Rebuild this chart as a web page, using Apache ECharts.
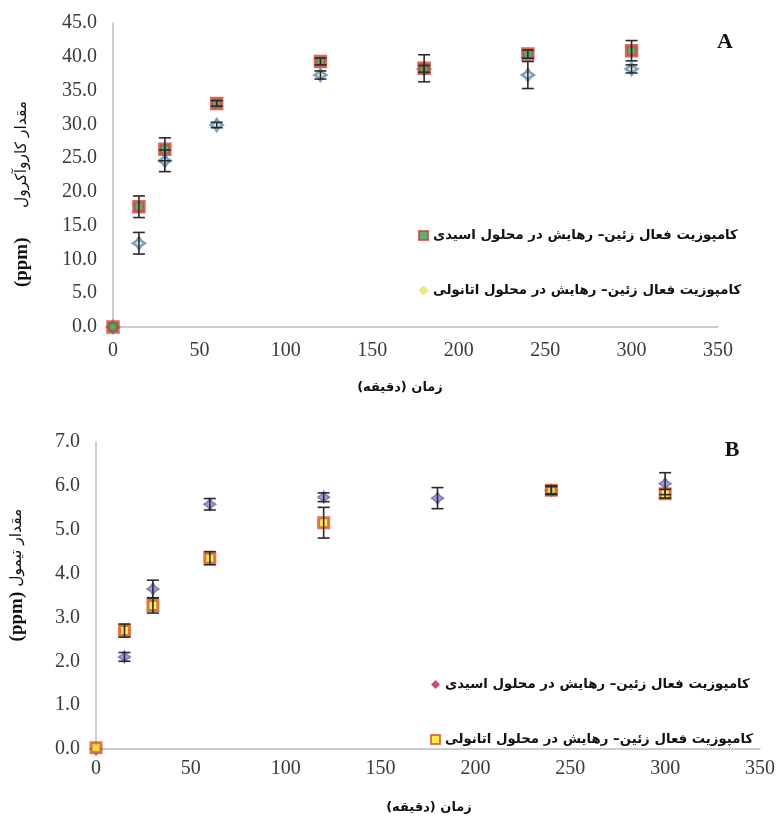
<!DOCTYPE html>
<html>
<head>
<meta charset="utf-8">
<script src="https://cdn.jsdelivr.net/npm/echarts@6/dist/echarts.min.js"></script>
<style>
html,body{margin:0;padding:0;background:#fff;}
#c{width:782px;height:818px;}
</style>
</head>
<body>
<div id="c"></div>
<script>
// ---- Data ----
var timesMin = [0, 15, 30, 60, 120, 180, 240, 300];
var xTicks = [0, 50, 100, 150, 200, 250, 300, 350];

// Chart A: carvacrol (ppm)
var aAcid = [0, 17.8, 26.3, 33.1, 39.3, 38.3, 40.4, 40.9];
var aAcidErr = [0, 1.6, 1.7, 0.4, 0.5, 2.0, 0.6, 1.5];
var aEth = [0, 12.4, 24.6, 29.9, 37.3, 38.2, 37.3, 38.2];
var aEthErr = [0, 1.6, 1.6, 0.4, 0.6, 0.5, 2.0, 0.6];

// Chart B: thymol (ppm)
var bAcid = [0, 2.1, 3.65, 5.58, 5.74, 5.72, 5.9, 6.05];
var bAcidErr = [0, 0.1, 0.2, 0.13, 0.1, 0.24, 0.08, 0.25];
var bEth = [0.03, 2.7, 3.27, 4.35, 5.16, null, 5.9, 5.82];
var bEthErr = [0, 0.15, 0.17, 0.15, 0.35, null, 0.1, 0.1];

var nameAcid = 'کامپوزیت فعال زئین– رهایش در محلول اسیدی';
var nameEth = 'کامپوزیت فعال زئین– رهایش در محلول اتانولی';

function pts(vals){ return timesMin.map(function(t,i){ return vals[i]==null?null:[t, vals[i]]; }).filter(Boolean); }
function errs(vals, e){ return timesMin.map(function(t,i){ return vals[i]==null||!e[i]?null:[t, vals[i]-e[i], vals[i]+e[i]]; }).filter(Boolean); }

function errRender(params, api){
  var x = api.value(0), lo = api.value(1), hi = api.value(2);
  var p1 = api.coord([x, hi]), p2 = api.coord([x, lo]);
  var w = 6;
  var st = {stroke:'#2a2a2a', lineWidth:1.6};
  return {type:'group', children:[
    {type:'line', shape:{x1:p1[0],y1:p1[1],x2:p2[0],y2:p2[1]}, style:st},
    {type:'line', shape:{x1:p1[0]-w,y1:p1[1],x2:p1[0]+w,y2:p1[1]}, style:st},
    {type:'line', shape:{x1:p2[0]-w,y1:p2[1],x2:p2[0]+w,y2:p2[1]}, style:st}
  ]};
}

var star4 = 'path://M0,-10 L4,-4 L10,0 L4,4 L0,10 L-4,4 L-10,0 L-4,-4 Z';
var tickFont = {fontFamily:'Liberation Serif', fontSize:20, color:'#3a3a3a'};
var axLine = {lineStyle:{color:'#bdbdbd', width:1.5}};

function xAx(gi, margin){
  return {type:'value', gridIndex:gi, min:0, max:350, interval:50,
    axisLine:axLine, axisTick:{show:false}, splitLine:{show:false},
    axisLabel:Object.assign({margin:margin}, tickFont)};
}
function yAx(gi, max, interval){
  return {type:'value', gridIndex:gi, min:0, max:max, interval:interval,
    axisLine:Object.assign({show:true}, axLine), axisTick:{show:false}, splitLine:{show:false},
    axisLabel:Object.assign({margin:16, formatter:function(v){return v.toFixed(1);}}, tickFont)};
}

var legText = {fontFamily:'DejaVu Sans', fontWeight:'bold', fontSize:13.3, color:'#111'};

var chart = echarts.init(document.getElementById('c'));
chart.setOption({
  backgroundColor:'#fff',
  animation:false,
  grid:[
    {left:113, top:23, width:605, height:304},
    {left:96, top:442, width:664, height:307}
  ],
  xAxis:[xAx(0, 14), xAx(1, 10)],
  yAxis:[yAx(0, 45, 5), yAx(1, 7, 1)],
  legend:[
    {orient:'vertical', left:413, top:224, itemGap:42, itemWidth:9, itemHeight:9,
     textStyle:legText, selectedMode:false,
     data:[
      {name:nameAcid, icon:'rect', itemStyle:{color:'#2f9e4a', borderColor:'#d0443a', borderWidth:2}},
      {name:nameEth, icon:'diamond', itemStyle:{color:'#e6e55a', borderColor:'#d8d890', borderWidth:1}}
     ]},
    {orient:'vertical', left:425, top:673, itemGap:42, itemWidth:9, itemHeight:9,
     textStyle:legText, selectedMode:false,
     data:[
      {name:nameAcid, icon:'diamond', itemStyle:{color:'#c41e4a', borderWidth:0}},
      {name:nameEth, icon:'rect', itemStyle:{color:'#ffe81a', borderColor:'#d4552a', borderWidth:2}}
     ]}
  ],
  series:[
    {type:'scatter', name:nameEth, xAxisIndex:0, yAxisIndex:0, data:pts(aEth), symbol:star4, symbolSize:12,
     itemStyle:{color:'#eef0b0', borderColor:'#5a8cc4', borderWidth:2.5}, z:2},
    {type:'scatter', name:nameAcid, xAxisIndex:0, yAxisIndex:0, data:pts(aAcid), symbol:'rect', symbolSize:10,
     itemStyle:{color:'#2f9e4a', borderColor:'#d0443a', borderWidth:3.5}, z:3},
    {type:'custom', name:'errA1', xAxisIndex:0, yAxisIndex:0, data:errs(aAcid, aAcidErr), renderItem:errRender, z:5},
    {type:'custom', name:'errA2', xAxisIndex:0, yAxisIndex:0, data:errs(aEth, aEthErr), renderItem:errRender, z:5},

    {type:'scatter', name:nameAcid, xAxisIndex:1, yAxisIndex:1, data:pts(bAcid), symbol:star4, symbolSize:12,
     itemStyle:{color:'#8a86c8', borderColor:'#6c6cb0', borderWidth:1.5}, z:2},
    {type:'scatter', name:nameEth, xAxisIndex:1, yAxisIndex:1, data:pts(bEth), symbol:'rect', symbolSize:10,
     itemStyle:{color:'#ffe81a', borderColor:'#d4552a', borderWidth:3}, z:3},
    {type:'custom', name:'errB1', xAxisIndex:1, yAxisIndex:1, data:errs(bAcid, bAcidErr), renderItem:errRender, z:5},
    {type:'custom', name:'errB2', xAxisIndex:1, yAxisIndex:1, data:errs(bEth, bEthErr), renderItem:errRender, z:5}
  ],
  graphic:[
    {type:'text', x:725, y:42, style:{text:'A', font:'bold 22px "Liberation Serif"', fill:'#111', align:'center', verticalAlign:'middle'}},
    {type:'text', x:732, y:450, style:{text:'B', font:'bold 22px "Liberation Serif"', fill:'#111', align:'center', verticalAlign:'middle'}},
    {type:'text', x:400, y:388, style:{text:'زمان (دقیقه)\u200F', font:'bold 13px "DejaVu Sans"', fill:'#111', align:'center', verticalAlign:'middle'}},
    {type:'text', x:429, y:808, style:{text:'زمان (دقیقه)\u200F', font:'bold 13px "DejaVu Sans"', fill:'#111', align:'center', verticalAlign:'middle'}},
    {type:'text', x:22, y:194, rotation:Math.PI/2,
     style:{text:'{p|(ppm)}{n|      مقدار کاروآکرول}', align:'center', verticalAlign:'middle',
       rich:{p:{font:'bold 19px "Liberation Serif"', fill:'#111'}, n:{font:'15.5px "DejaVu Sans"', fill:'#111'}}}},
    {type:'text', x:17, y:575, rotation:Math.PI/2,
     style:{text:'{p|(ppm)}{n| مقدار تیمول}', align:'center', verticalAlign:'middle',
       rich:{p:{font:'bold 19px "Liberation Serif"', fill:'#111'}, n:{font:'15.5px "DejaVu Sans"', fill:'#111'}}}}
  ]
});
</script>
</body>
</html>
